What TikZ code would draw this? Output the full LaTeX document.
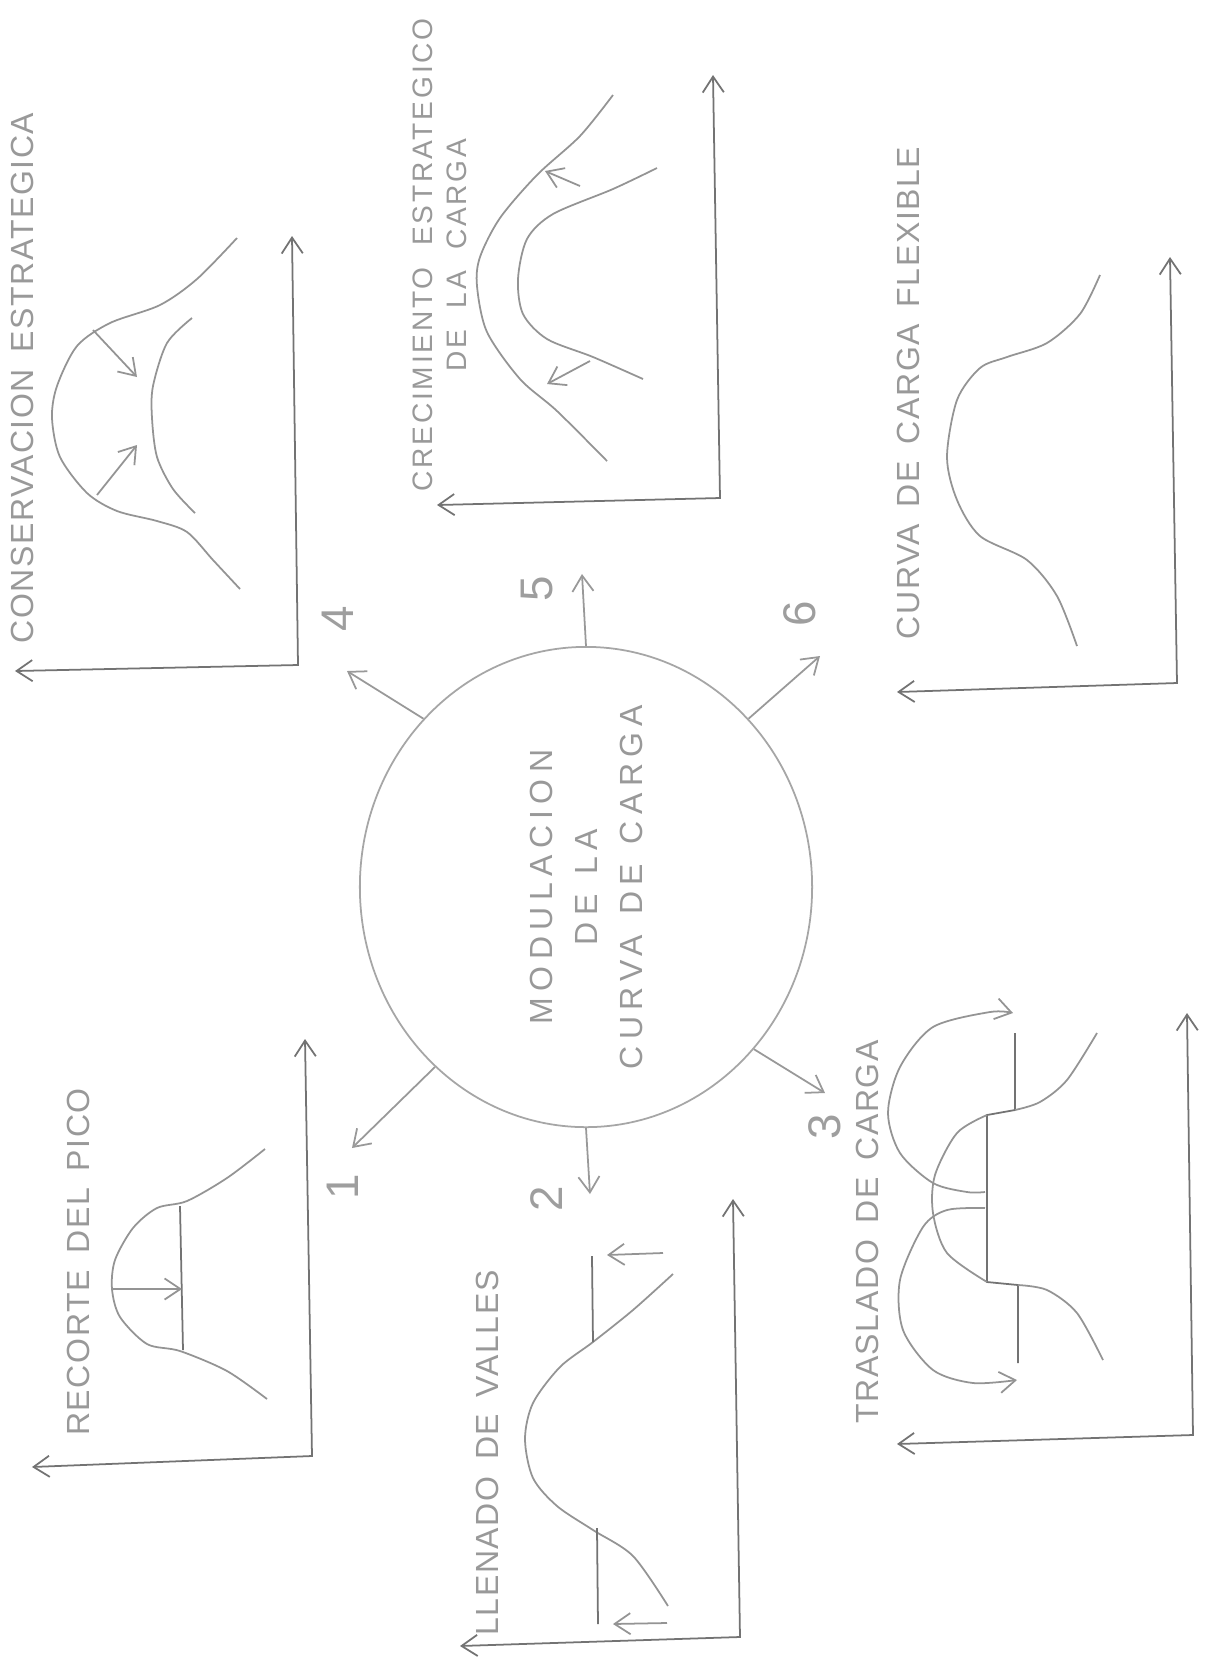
\documentclass[tikz,border=0pt]{standalone}
\usepackage{fontspec}
\usepackage{tikz}
\usetikzlibrary{arrows.meta,shapes.geometric}
\newfontfamily\plotfont[LetterSpace=5,WordSpace=1.6]{Liberation Sans}
\newfontfamily\widefont[LetterSpace=10,WordSpace=2]{Liberation Sans}
\newfontfamily\hubfont[LetterSpace=20,WordSpace=1.3]{Liberation Sans}

\begin{document}
\begin{tikzpicture}[x=0.01cm, y=-0.01cm, >={Straight Barb[length=4.5pt,width=6pt]},
	ax/.style={draw=black!55, line width=0.5pt},
	crv/.style={draw=black!42, line width=0.5pt},
	ttl/.style={rotate=90, text=black!40, inner sep=0pt, align=center, font=\plotfont\fontsize{9.1}{11}\selectfont},
	num/.style={rotate=90, text=black!38, inner sep=0pt, font=\plotfont\fontsize{13}{15}\selectfont},
	hub/.style={draw=black!35, line width=0.5pt, ellipse, minimum width=4.52cm, minimum height=4.8cm, inner sep=0pt},
	hubtext/.style={rotate=90, text=black!40, inner sep=0pt, align=center, font=\hubfont\fontsize{9.1}{12.8}\selectfont},
	spoke/.style={draw=black!40, line width=0.5pt, ->}]
	\useasboundingbox[fill=white] (0,0) rectangle (1209,1668);

	\node[hub] (mod) at (586,887) {};
	\node[hubtext] (modtxt) at (mod.center) {MODULACION\\DE LA\\CURVA DE CARGA};

	\coordinate (t1) at (352,1148);
	\coordinate (t2) at (590,1194);
	\coordinate (t3) at (825,1093);
	\coordinate (t4) at (347,671);
	\coordinate (t5) at (582,574);
	\coordinate (t6) at (820,656);
	\draw[spoke] (mod.-130) -- (t1);
	\draw[spoke] (mod.-90) -- (t2);
	\draw[spoke] (mod.-44) -- (t3);
	\draw[spoke] (mod.134) -- (t4);
	\draw[spoke] (mod.90) -- (t5);
	\draw[spoke] (mod.46) -- (t6);
	\node[num] (n1) at (343,1187) {1};
	\node[num] (n2) at (547,1199) {2};
	\node[num] (n3) at (825,1127) {3};
	\node[num] (n4) at (338,619) {4};
	\node[num] (n5) at (537,589) {5};
	\node[num] (n6) at (800,614) {6};

	% 4
	\node[ttl] (tit4) at (22,378) {CONSERVACION ESTRATEGICA};
	\draw[ax,<->] (292,236) -- (298,665) -- (15,671);
	\draw[crv] plot[smooth] coordinates {(237,238) (197,279) (160,305) (110,323) (77,346) (57,386) (52,418) (60,457) (87,493) (117,511) (157,521) (187,532) (213,560) (240,589)};
	\draw[crv] plot[smooth] coordinates {(192,318) (167,343) (153,386) (152,418) (157,457) (173,489) (195,513)};
	\draw[crv,->] (93,330) -- (137,377);
	\draw[crv,->] (97,495) -- (137,445);

	% 5
	\node[ttl, font=\widefont\fontsize{8}{9.7}\selectfont] (tit5) at (440,255) {CRECIMIENTO ESTRATEGICO\\DE LA CARGA};
	\draw[ax,<->] (713,75) -- (720,498) -- (437,505);
	\draw[crv] plot[smooth] coordinates {(613,95) (580,136) (537,175) (500,218) (480,257) (477,286) (487,332) (520,379) (557,411) (607,461)};
	\draw[crv] plot[smooth] coordinates {(657,168) (613,189) (553,214) (527,239) (518,279) (523,314) (547,339) (593,357) (643,379)};
	\draw[crv,->] (580,186) -- (545,171);
	\draw[crv,->] (590,361) -- (547,384);

	% 6
	\node[ttl] (tit6) at (908,393) {CURVA DE CARGA FLEXIBLE};
	\draw[ax,<->] (1170,257) -- (1177,683) -- (897,692);
	\draw[crv] plot[smooth] coordinates {(1100,275) (1080,314) (1047,343) (1007,357) (980,368) (957,400) (947,457) (957,500) (980,536) (1027,560) (1057,596) (1077,646)};

	% 1
	\node[ttl] (tit1) at (78,1262) {RECORTE DEL PICO};
	\draw[ax,<->] (305,1039) -- (312,1456) -- (32,1467);
	\draw[crv] plot[smooth] coordinates {(265,1149) (227,1178) (187,1201) (157,1208) (133,1228) (115,1260) (112,1289) (120,1317) (147,1344) (180,1351) (227,1371) (267,1399)};
	\draw[ax] (180,1206) -- (183,1350);
	\draw[crv,->] (112,1289) -- (182,1289);

	% 2
	\node[ttl] (tit2) at (487,1453) {LLENADO DE VALLES};
	\draw[ax,<->] (733,1199) -- (740,1637) -- (460,1646);
	\draw[crv] plot[smooth] coordinates {(673,1274) (633,1310) (593,1342) (560,1367) (533,1403) (525,1439) (533,1478) (557,1506) (593,1530) (633,1556) (668,1606)};
	\draw[ax] (592,1256) -- (593,1342);
	\draw[ax] (597,1528) -- (598,1624);
	\draw[crv,->] (663,1253) -- (607,1255);
	\draw[crv,->] (667,1623) -- (613,1624);

	% 3
	\node[ttl] (tit3) at (867,1232) {TRASLADO DE CARGA};
	\draw[ax,<->] (1187,1013) -- (1193,1435) -- (897,1444);
	\draw[ax] (1015,1033) -- (1015,1110) -- (987,1115) -- (987,1282) -- (1018,1285) -- (1018,1363);
	\draw[crv] plot[smooth] coordinates {(1015,1110) (1040,1102) (1067,1080) (1097,1033)};
	\draw[crv] plot[smooth] coordinates {(1018,1285) (1047,1290) (1077,1313) (1103,1360)};
	\draw[crv] plot[smooth] coordinates {(987,1115) (957,1133) (935,1175) (933,1213) (947,1253) (987,1282)};
	\draw[crv,->] plot[smooth] coordinates {(985,1192) (967,1192) (933,1183) (900,1153) (888,1113) (900,1067) (933,1027) (990,1012) (1013,1013)};
	\draw[crv,->] plot[smooth] coordinates {(985,1208) (947,1210) (923,1227) (900,1280) (903,1330) (933,1370) (973,1383) (1017,1380)};
\end{tikzpicture}
\end{document}
